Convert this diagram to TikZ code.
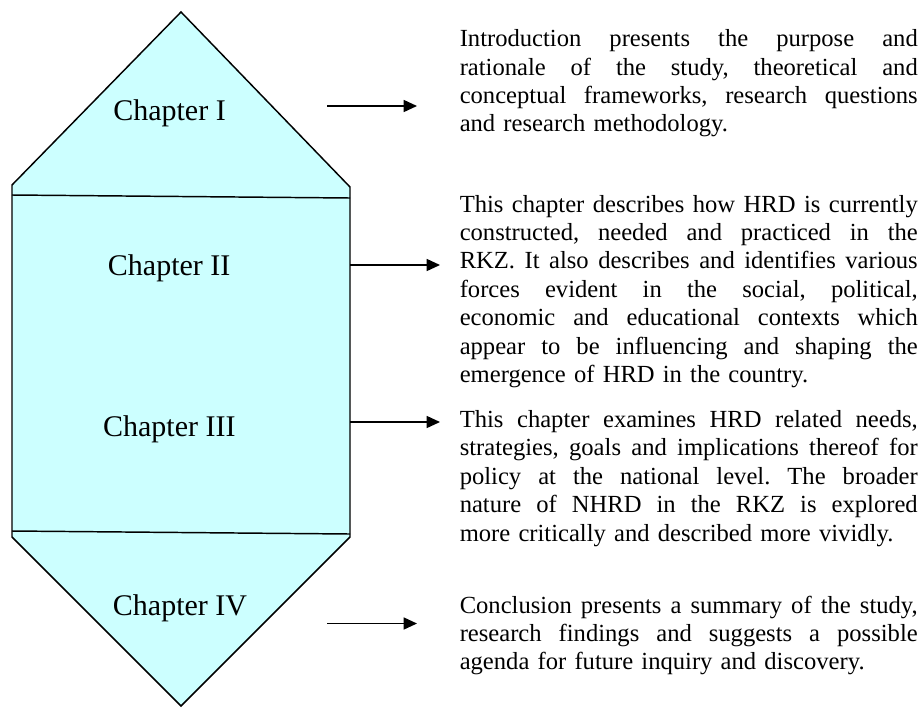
\documentclass[tikz,border=0pt]{standalone}
\usepackage{fontspec}
\setmainfont{Liberation Serif}
\usetikzlibrary{arrows.meta}
\definecolor{chapfill}{HTML}{CCFFFF}
\frenchspacing
\newlength{\bw}
\setlength{\bw}{343.5pt}
\newcommand{\jl}[1]{{\frenchspacing\spaceskip=0pt\xspaceskip=0pt\makebox[\bw][s]{#1}}}
\tikzset{
  outline/.style={draw=black, line width=1.1pt, line join=miter},
  sepline/.style={draw=black, line width=1.1pt},
  chaplabel/.style={font=\fontsize{22.5}{26}\selectfont, inner sep=0pt, anchor=base},
  desc/.style={font=\fontsize{18.45}{21.3}\selectfont, inner sep=0pt, anchor=base west, text width=343.5pt, align=left},
  pointer/.style={draw=black, line width=1.1pt, -{Triangle[length=10pt,width=9pt]}}
}
\begin{document}
\begin{tikzpicture}[x=0.75pt,y=-0.75pt]
\useasboundingbox (0,0) rectangle (923,707);
% shape
\coordinate (top) at (181,12);
\coordinate (ul) at (12,185);
\coordinate (ll) at (12,537);
\coordinate (bot) at (181,706);
\coordinate (lr) at (350,537);
\coordinate (ur) at (350,187);
\path[outline, fill=chapfill] (top) -- (ul) -- (ll) -- (bot) -- (lr) -- (ur) -- cycle;
\coordinate (s1l) at (12,195);
\coordinate (s1r) at (350,198);
\coordinate (s2l) at (12,531);
\coordinate (s2r) at (350,534);
\draw[sepline] (s1l) -- (s1r);
\draw[sepline] (s2l) -- (s2r);
% chapter labels
\node[chaplabel] (c1) at (169.5,120) {Chapter I};
\node[chaplabel] (c2) at (169.2,275) {Chapter II};
\node[chaplabel] (c3) at (169.3,436.7) {Chapter III};
\node[chaplabel] (c4) at (180,615.7) {Chapter IV};
% descriptions
\node[desc] (d1) at (459.5,46.7) {\jl{Introduction presents the purpose and}\\\jl{rationale of the study, theoretical and}\\\jl{conceptual frameworks, research questions}\\and research methodology.};
\node[desc] (d2) at (459.5,212) {\jl{This chapter describes how HRD is currently}\\\jl{constructed, needed and practiced in the}\\\jl{RKZ. It also describes and identifies various}\\\jl{forces evident in the social, political,}\\\jl{economic and educational contexts which}\\\jl{appear to be influencing and shaping the}\\emergence of HRD in the country.};
\node[desc] (d3) at (459.5,427.5) {\jl{This chapter examines HRD related needs,}\\\jl{strategies, goals and implications thereof for}\\\jl{policy at the national level. The broader}\\\jl{nature of NHRD in the RKZ is explored}\\more critically and described more vividly.};
\node[desc] (d4) at (459.5,613) {\jl{Conclusion presents a summary of the study,}\\\jl{research findings and suggests a possible}\\agenda for future inquiry and discovery.};
% arrows
\coordinate (a1s) at (327,106);
\coordinate (a1e) at (417,106);
\coordinate (a2s) at (350,265);
\coordinate (a2e) at (440,265);
\coordinate (a3s) at (350,422);
\coordinate (a3e) at (440,422);
\coordinate (a4s) at (327,623.5);
\coordinate (a4e) at (417,623.5);
\draw[pointer] (a1s) -- (a1e);
\draw[pointer] (a2s) -- (a2e);
\draw[pointer] (a3s) -- (a3e);
\draw[pointer] (a4s) -- (a4e);
\end{tikzpicture}
\end{document}
